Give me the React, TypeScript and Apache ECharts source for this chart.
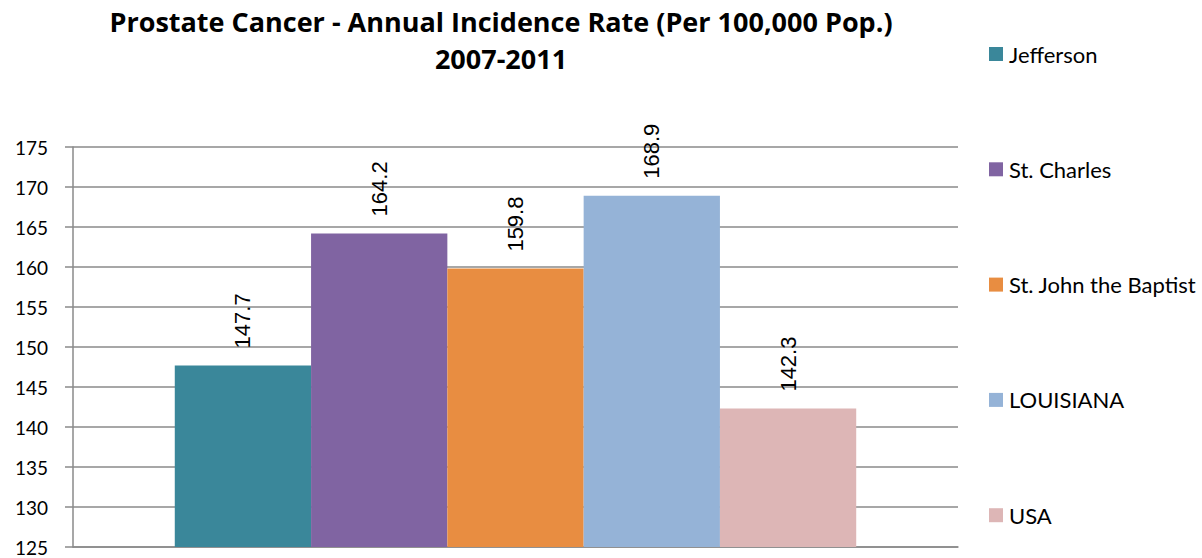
import React, { useEffect, useRef } from "react";
import * as echarts from "echarts";

const categories = [""];
const seriesNames = ["Jefferson", "St. Charles", "St. John the Baptist", "LOUISIANA", "USA"];
const seriesValues = [147.7, 164.2, 159.8, 168.9, 142.3];
const seriesColors = ["#3A879A", "#8064A2", "#E88D41", "#95B3D7", "#DDB6B6"];
const yMin = 125;
const yMax = 175;
const yInterval = 5;
const titleText = "Prostate Cancer - Annual Incidence Rate (Per 100,000 Pop.)\n2007-2011";

export default function App() {
  const ref = useRef<HTMLDivElement>(null);
  useEffect(() => {
    if (!ref.current) return;
    const chart = echarts.init(ref.current, undefined, { renderer: "svg" });
    const gridColor = "#8a8a8a";
    chart.setOption({
      animation: false,
      backgroundColor: "#ffffff",
      title: {
        text: titleText,
        left: 501,
        top: 3,
        padding: 0,
        textAlign: "center",
        textStyle: {
          fontFamily: "Open Sans",
          fontWeight: "bold",
          fontSize: 27,
          lineHeight: 37,
          color: "#000000",
        },
      },
      legend: {
        orient: "vertical",
        left: 989,
        top: 42,
        padding: 0,
        itemWidth: 14,
        itemHeight: 14,
        itemGap: 91.3,
        icon: "rect",
        data: seriesNames,
        textStyle: {
          fontFamily: "Lato",
          fontSize: 22,
          lineHeight: 24,
          color: "#000000",
          padding: [0, 0, 0, 1],
        },
      },
      grid: {
        left: 73,
        right: 244,
        top: 147,
        bottom: 11,
        containLabel: false,
      },
      xAxis: {
        type: "category",
        data: categories,
        axisLine: { show: true, lineStyle: { color: gridColor, width: 1.5 } },
        axisTick: { show: false },
        axisLabel: { show: false },
        splitLine: { show: false },
      },
      yAxis: {
        type: "value",
        min: yMin,
        max: yMax,
        interval: yInterval,
        axisLine: { show: true, lineStyle: { color: gridColor, width: 1.5 } },
        axisTick: { show: true, length: 8, inside: false, lineStyle: { color: gridColor, width: 1.5 } },
        axisLabel: {
          fontFamily: "Lato",
          fontSize: 19,
          color: "#000000",
          margin: 25,
        },
        splitLine: { show: true, lineStyle: { color: gridColor, width: 1.5 } },
      },
      series: seriesNames.map((name, i) => ({
        name,
        type: "bar",
        data: [seriesValues[i]],
        barGap: "0%",
        barCategoryGap: "23%",
        itemStyle: { color: seriesColors[i] },
        label: {
          show: true,
          position: "top",
          rotate: 90,
          align: "left",
          verticalAlign: "middle",
          distance: 17,
          fontFamily: "Liberation Sans",
          fontSize: 22,
          color: "#000000",
          formatter: (p: any) => Number(p.value).toFixed(1),
        },
      })),
    });
    return () => chart.dispose();
  }, []);
  return (
    <div
      ref={ref}
      style={{ position: "absolute", left: 0, top: 0, width: 1202, height: 558 }}
    />
  );
}
